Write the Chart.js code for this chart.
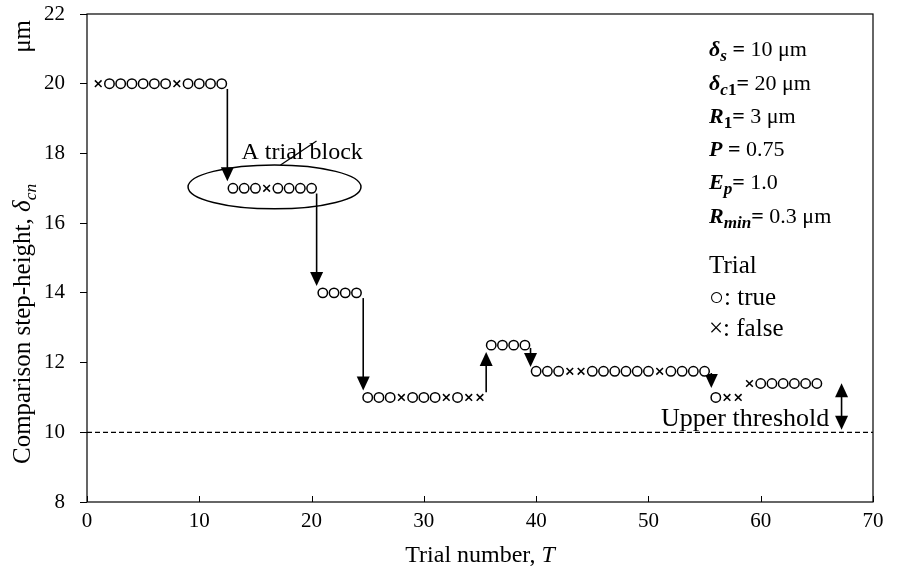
<!DOCTYPE html>
<html><head><meta charset="utf-8">
<script src="https://cdn.jsdelivr.net/npm/chart.js@4.4.0/dist/chart.umd.min.js"></script>
<style>html,body{margin:0;padding:0;background:#fff}#wrap{width:908px;height:577px}</style>
</head><body><div id="wrap"><canvas id="c" width="908" height="577"></canvas></div>
<script>
// ---- data ----
const trialNumbers = [];
for (let t = 1; t <= 65; t++) trialNumbers.push(t);
const stepHeights = [
  20,20,20,20,20,20,20,20,20,20,20,20,
  17,17,17,17,17,17,17,17,
  14,14,14,14,
  11,11,11,11,11,11,11,11,11,11,11,
  12.5,12.5,12.5,12.5,
  11.75,11.75,11.75,11.75,11.75,11.75,11.75,11.75,11.75,11.75,11.75,11.75,11.75,11.75,11.75,11.75,
  11,11,11,
  11.4,11.4,11.4,11.4,11.4,11.4,11.4
];
const trialResults = [
  'x','o','o','o','o','o','o','x','o','o','o','o',
  'o','o','o','x','o','o','o','o',
  'o','o','o','o',
  'o','o','o','x','o','o','o','x','o','x','x',
  'o','o','o','o',
  'o','o','o','x','x','o','o','o','o','o','o','x','o','o','o','o',
  'o','x','x',
  'x','o','o','o','o','o','o'
];
const xTicks = [0,10,20,30,40,50,60,70];
const yTicks = [8,10,12,14,16,18,20,22];
const upperThreshold = 10;
// arrows in data units: x, from y, to y (head at "to"), double-headed flag
const arrowX    = [12.5, 20.45, 24.6, 35.55, 39.5, 55.6, 67.2];
const arrowFrom = [19.85, 16.85, 13.85, 11.15, 12.42, 11.70, 11.41];
const arrowTo   = [17.2, 14.2, 11.2, 12.3, 11.87, 11.27, 10.07];
const arrowBoth = [false, false, false, false, false, false, true];
// trial block ellipse (data units)
const blockCenter = [16.7, 17.04];
const blockRadius = [7.7, 0.63];

const points = trialNumbers.map((t, i) => ({x: t, y: stepHeights[i]}));
const styles = trialResults.map(r => r === 'o' ? 'circle' : 'crossRot');

const SERIF = "'Liberation Serif', 'Times New Roman', serif";

function fontStr(style, size) {
  let s = '';
  if (style.includes('i')) s += 'italic ';
  if (style.includes('b')) s += 'bold ';
  return s + size + 'px ' + SERIF;
}
function richWidth(ctx, segs, size, subScale) {
  let w = 0;
  for (const s of segs) {
    ctx.font = fontStr(s.s || '', s.sub ? size * subScale : size);
    w += ctx.measureText(s.t).width;
  }
  return w;
}
function drawRich(ctx, segs, x, y, size, subScale) {
  subScale = subScale || 0.7;
  ctx.textBaseline = 'alphabetic';
  ctx.textAlign = 'left';
  let cx = x;
  for (const s of segs) {
    const sz = s.sub ? size * subScale : size;
    ctx.font = fontStr(s.s || '', sz);
    ctx.fillText(s.t, cx, y + (s.sub ? size * 0.22 : 0));
    cx += ctx.measureText(s.t).width;
  }
  return cx - x;
}
function drawArrowHead(ctx, x, y, dir) { // dir: +1 pointing down, -1 pointing up
  const L = 14, W = 6.5;
  ctx.beginPath();
  ctx.moveTo(x, y);
  ctx.lineTo(x - W, y - dir * L);
  ctx.lineTo(x + W, y - dir * L);
  ctx.closePath();
  ctx.fill();
}

const decor = {
  id: 'decor',
  beforeDatasetsDraw(chart) {
    const ctx = chart.ctx, xs = chart.scales.x, ys = chart.scales.y, a = chart.chartArea;
    ctx.save();
    ctx.strokeStyle = '#000';
    ctx.lineWidth = 1.3;
    ctx.setLineDash([5, 3]);
    const ty = ys.getPixelForValue(upperThreshold);
    ctx.beginPath(); ctx.moveTo(a.left, ty); ctx.lineTo(a.right, ty); ctx.stroke();
    ctx.setLineDash([]);
    ctx.fillStyle = '#000';
    ctx.lineWidth = 1.6;
    for (let i = 0; i < arrowX.length; i++) {
      const px = xs.getPixelForValue(arrowX[i]);
      const y1 = ys.getPixelForValue(arrowFrom[i]);
      const y2 = ys.getPixelForValue(arrowTo[i]);
      const dir = y2 > y1 ? 1 : -1;
      ctx.beginPath();
      ctx.moveTo(px, arrowBoth[i] ? y1 + dir * 12 : y1);
      ctx.lineTo(px, y2 - dir * 12);
      ctx.stroke();
      drawArrowHead(ctx, px, y2, dir);
      if (arrowBoth[i]) drawArrowHead(ctx, px, y1, -dir);
    }
    const ecx = xs.getPixelForValue(blockCenter[0]);
    const ecy = ys.getPixelForValue(blockCenter[1]);
    const erx = Math.abs(xs.getPixelForValue(blockCenter[0] + blockRadius[0]) - ecx);
    const ery = Math.abs(ys.getPixelForValue(blockCenter[1] + blockRadius[1]) - ecy);
    ctx.lineWidth = 1.5;
    ctx.beginPath(); ctx.ellipse(ecx, ecy, erx, ery, 0, 0, Math.PI * 2); ctx.stroke();
    ctx.lineWidth = 1.2;
    ctx.beginPath(); ctx.moveTo(ecx + 6, ecy - ery); ctx.lineTo(ecx + 42, ecy - ery - 24); ctx.stroke();
    ctx.restore();
  },
  afterDraw(chart) {
    const ctx = chart.ctx, xs = chart.scales.x, ys = chart.scales.y, a = chart.chartArea;
    ctx.save();
    ctx.fillStyle = '#000';
    ctx.strokeStyle = '#000';
    ctx.lineWidth = 1.2;
    ctx.strokeRect(a.left, a.top, a.right - a.left, a.bottom - a.top);
    ctx.lineWidth = 1;
    for (const v of xTicks) {
      const px = Math.round(xs.getPixelForValue(v)) + 0.5;
      ctx.beginPath(); ctx.moveTo(px, a.bottom); ctx.lineTo(px, a.bottom - 6); ctx.stroke();
    }
    const ecx = xs.getPixelForValue(blockCenter[0]);
    const ecy = ys.getPixelForValue(blockCenter[1]);
    drawRich(ctx, [{t: 'A trial block'}], ecx - 33, ecy - 28, 24);
    drawRich(ctx, [{t: 'Upper threshold'}], 661, ys.getPixelForValue(upperThreshold) - 6, 26);
    const L = 709, S = 22;
    const rows = [
      [{t: 'δ', s: 'bi'}, {t: 's', s: 'bi', sub: true}, {t: ' = ', s: 'b'}, {t: '10 μm'}],
      [{t: 'δ', s: 'bi'}, {t: 'c', s: 'bi', sub: true}, {t: '1', s: 'b', sub: true}, {t: '= ', s: 'b'}, {t: '20 μm'}],
      [{t: 'R', s: 'bi'}, {t: '1', s: 'b', sub: true}, {t: '= ', s: 'b'}, {t: '3 μm'}],
      [{t: 'P', s: 'bi'}, {t: ' = ', s: 'b'}, {t: '0.75'}],
      [{t: 'E', s: 'bi'}, {t: 'p', s: 'bi', sub: true}, {t: '= ', s: 'b'}, {t: '1.0'}],
      [{t: 'R', s: 'bi'}, {t: 'min', s: 'bi', sub: true}, {t: '= ', s: 'b'}, {t: '0.3 μm'}]
    ];
    const rowY = [56, 90, 123, 156, 189, 223];
    rows.forEach((r, i) => drawRich(ctx, r, L, rowY[i], S, 0.78));
    drawRich(ctx, [{t: 'Trial'}], L, 273, 25);
    drawRich(ctx, [{t: '○: true'}], L, 305, 25);
    drawRich(ctx, [{t: '×: false'}], L, 336, 25);
    // x axis title
    const xt = [{t: 'Trial number, '}, {t: 'T', s: 'i'}];
    const xw = richWidth(ctx, xt, 24, 0.7);
    drawRich(ctx, xt, (a.left + a.right) / 2 - xw / 2, 562, 24);
    // y axis title
    ctx.translate(30, 0);
    ctx.rotate(-Math.PI / 2);
    drawRich(ctx, [{t: 'Comparison step-height, '}, {t: 'δ', s: 'i'}, {t: 'cn', s: 'i', sub: true}], -464, 0, 25, 0.7);
    ctx.font = fontStr('', 25);
    const mw = ctx.measureText('μm').width;
    ctx.fillText('μm', -20 - mw, 0);
    ctx.restore();
  }
};

new Chart(document.getElementById('c'), {
  type: 'scatter',
  data: {
    datasets: [{
      data: points,
      pointStyle: styles,
      pointRadius: 4.7,
      pointHoverRadius: 4.7,
      borderColor: '#000',
      backgroundColor: '#fff',
      pointBorderWidth: 1.5,
      showLine: false
    }]
  },
  options: {
    responsive: false,
    animation: false,
    devicePixelRatio: 1,
    layout: {padding: {top: 14, right: 35, left: 0, bottom: 0}},
    plugins: {legend: {display: false}, tooltip: {enabled: false}},
    events: [],
    scales: {
      x: {
        type: 'linear', min: 0, max: 70,
        afterBuildTicks: s => { s.ticks = xTicks.map(v => ({value: v})); },
        ticks: {color: '#000', font: {family: SERIF, size: 21}, padding: 7, maxRotation: 0},
        grid: {drawOnChartArea: false, drawTicks: false},
        border: {display: false},
        afterFit: s => { s.height = 75; s.paddingLeft = 0; s.paddingRight = 0; }
      },
      y: {
        type: 'linear', min: 8, max: 22,
        afterBuildTicks: s => { s.ticks = yTicks.map(v => ({value: v})); },
        ticks: {color: '#000', font: {family: SERIF, size: 21}, padding: 15},
        grid: {drawOnChartArea: false, drawTicks: true, tickLength: 7, color: '#000'},
        border: {display: false},
        afterFit: s => { s.width = 87; s.paddingTop = 0; s.paddingBottom = 0; }
      }
    }
  },
  plugins: [decor]
});
</script>
</body></html>
